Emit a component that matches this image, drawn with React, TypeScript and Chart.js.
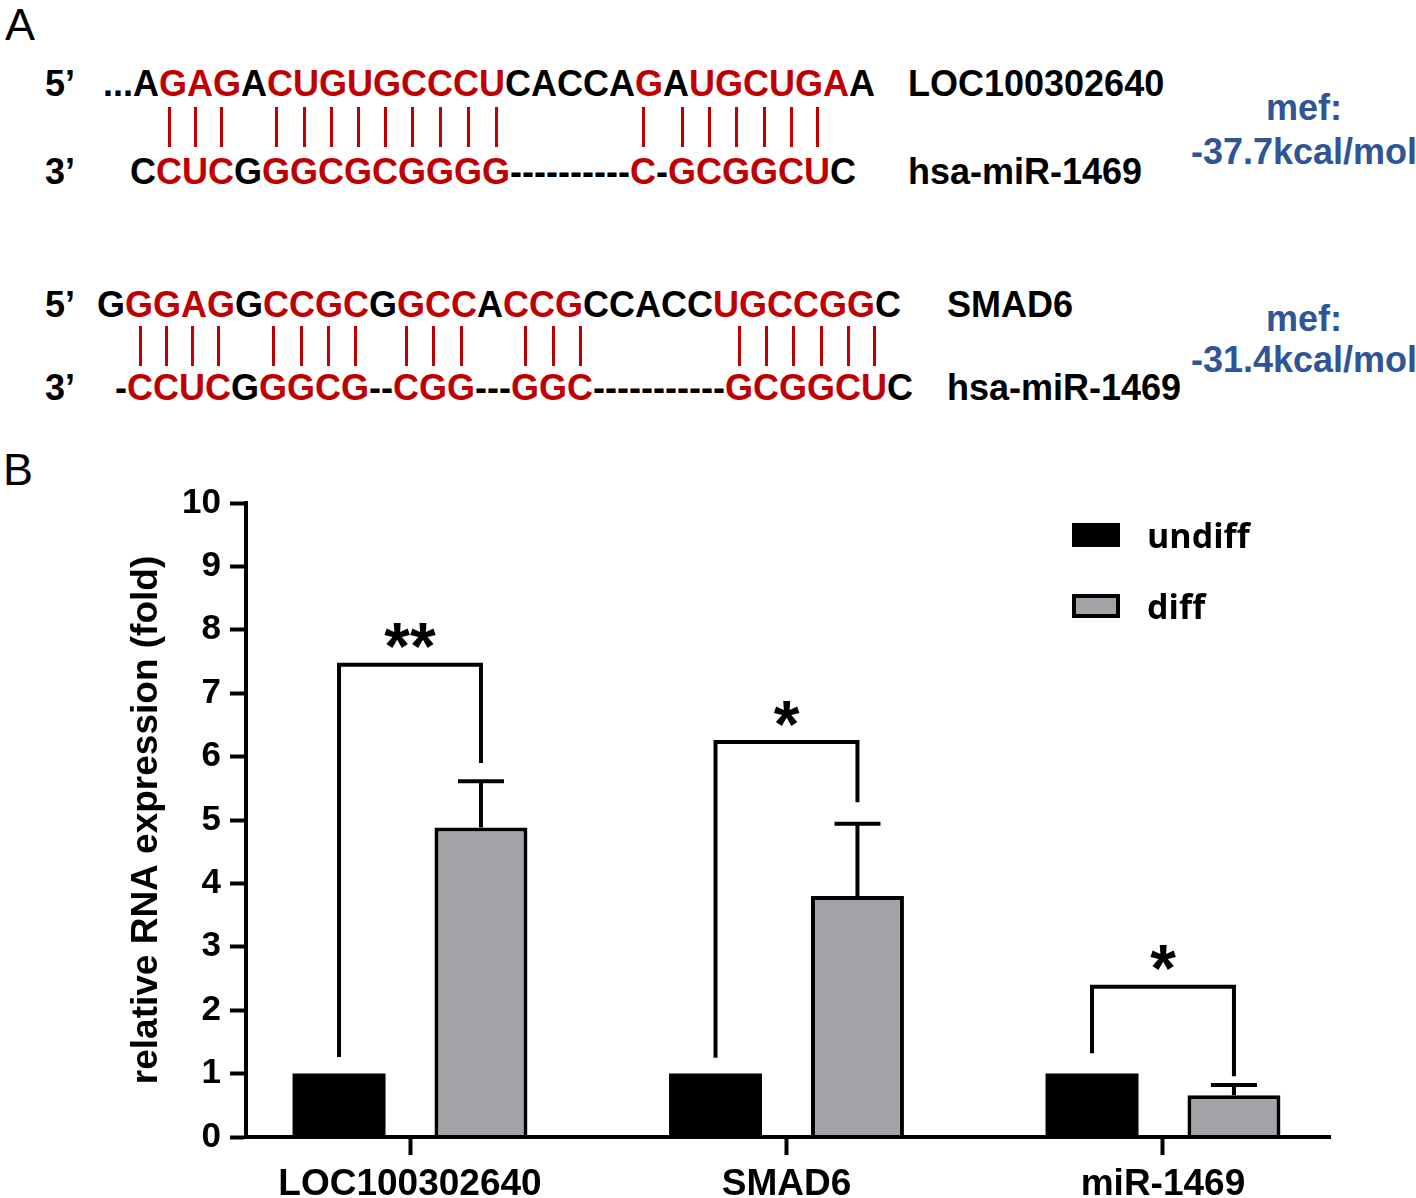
import React, { useEffect, useRef } from 'react';
import { Chart, registerables } from 'chart.js';

Chart.register(...registerables);

// ---------- Panel B data ----------
const categories = ['LOC100302640', 'SMAD6', 'miR-1469'];
const seriesNames = ['undiff', 'diff'];
const undiffValues = [1, 1, 1];
const diffValues = [4.88, 3.8, 0.66];
const diffErrors = [0.73, 1.14, 0.16];
const bracketTops = [7.45, 6.23, 2.37];
const bracketLeftEnds = [1.26, 1.25, 1.32];
const bracketRightEnds = [5.9, 5.28, 0.96];
const significance = ['**', '*', '*'];
const yMin = 0;
const yMax = 10;
const yStep = 1;
const yTitle = 'relative RNA expression (fold)';

// ---------- Panel A data ----------
type Seg = [string, boolean];
const locTarget: Seg[] = [['...A', false], ['GAG', true], ['A', false], ['CUGUGCCCU', true], ['CACCA', false], ['G', true], ['A', false], ['UGCUGA', true], ['A', false]];
const locMiR: Seg[] = [['C', false], ['CUC', true], ['G', false], ['GGCGCGGGG', true], ['----------', false], ['C', true], ['-', false], ['GCGGCU', true], ['C', false]];
const smadTarget: Seg[] = [['G', false], ['GGAG', true], ['G', false], ['CCGC', true], ['G', false], ['GCC', true], ['A', false], ['CCG', true], ['CCACC', false], ['UGCCGG', true], ['C', false]];
const smadMiR: Seg[] = [['-', false], ['CCUC', true], ['G', false], ['GGCG', true], ['--', false], ['CGG', true], ['---', false], ['GGC', true], ['-----------', false], ['GCGGCU', true], ['C', false]];
const targetNames = ['LOC100302640', 'SMAD6'];
const mirName = 'hsa-miR-1469';
const mefValues = ['-37.7kcal/mol', '-31.4kcal/mol'];

// ---------- styles ----------
const FONT = "'Liberation Sans', Arial, Helvetica, sans-serif";
const LEGEND_FONT = "'Open Sans', 'Liberation Sans', Arial, sans-serif";
const RED = '#C00000';
const BLUE = '#2F5597';
const GRAY = '#A3A2A7';
const X_MIN = -0.4356;
const X_MAX = 2.4436;

const annotationPlugin = {
  id: 'annotations',
  afterDatasetsDraw(chart: any) {
    const ctx: CanvasRenderingContext2D = chart.ctx;
    const y = chart.scales.y;
    const m0 = chart.getDatasetMeta(0);
    const m1 = chart.getDatasetMeta(1);
    ctx.save();
    ctx.strokeStyle = '#000';
    ctx.fillStyle = '#000';
    ctx.lineWidth = 4;
    ctx.lineCap = 'butt';
    ctx.lineJoin = 'miter';
    // error bars (upper only)
    m1.data.forEach((bar: any, i: number) => {
      const top = y.getPixelForValue(diffValues[i] + diffErrors[i]);
      const half = 23;
      ctx.beginPath();
      ctx.moveTo(bar.x, bar.y);
      ctx.lineTo(bar.x, top);
      ctx.moveTo(bar.x - half, top);
      ctx.lineTo(bar.x + half, top);
      ctx.stroke();
    });
    // significance brackets
    categories.forEach((_, i) => {
      const x0 = m0.data[i].x;
      const x1 = m1.data[i].x;
      const yt = y.getPixelForValue(bracketTops[i]);
      ctx.beginPath();
      ctx.moveTo(x0, y.getPixelForValue(bracketLeftEnds[i]));
      ctx.lineTo(x0, yt);
      ctx.lineTo(x1, yt);
      ctx.lineTo(x1, y.getPixelForValue(bracketRightEnds[i]));
      ctx.stroke();
      ctx.font = `bold 66px ${FONT}`;
      ctx.textAlign = 'center';
      ctx.textBaseline = 'alphabetic';
      const mt = ctx.measureText(significance[i]);
      const cy = yt - 29;
      const base = cy + (mt.actualBoundingBoxAscent - mt.actualBoundingBoxDescent) / 2;
      ctx.fillText(significance[i], (x0 + x1) / 2, base);
    });
    // legend
    const lx = 1072;
    const boxes = [93, 164];
    chart.data.datasets.forEach((ds: any, i: number) => {
      const by = boxes[i];
      ctx.fillStyle = ds.backgroundColor;
      ctx.fillRect(lx, by, 48, 24);
      if (i > 0) {
        ctx.strokeStyle = '#000';
        ctx.lineWidth = 4;
        ctx.strokeRect(lx + 2, by + 2, 44, 20);
      }
      ctx.fillStyle = '#000';
      ctx.font = `bold 34px ${LEGEND_FONT}`;
      ctx.textAlign = 'left';
      ctx.textBaseline = 'alphabetic';
      ctx.fillText(ds.label, 1147, by + 25);
    });
    ctx.restore();
  },
};

const tickFont = { family: FONT, size: 35, weight: 'bold' as const };

function Txt(props: { x: number; baseline: number; size?: number; weight?: number; color?: string; center?: boolean; children: React.ReactNode }) {
  const size = props.size ?? 36;
  const center = !!props.center;
  const style: React.CSSProperties = {
    position: 'absolute',
    top: props.baseline - 0.8465 * size,
    left: center ? props.x - 250 : props.x,
    width: center ? 500 : undefined,
    textAlign: center ? 'center' : 'left',
    fontSize: size,
    lineHeight: `${size}px`,
    fontWeight: props.weight ?? 700,
    color: props.color ?? '#000',
    whiteSpace: 'pre',
    fontKerning: 'none',
    fontFamily: FONT,
  };
  return <div style={style}>{props.children}</div>;
}

function SeqText({ segs }: { segs: Seg[] }) {
  return (
    <>
      {segs.map(([t, red], i) => (
        <span key={i} style={{ color: red ? RED : '#000' }}>{t}</span>
      ))}
    </>
  );
}

function Pairs({ segs, x, top, height }: { segs: Seg[]; x: number; top: number; height: number }) {
  const chars: Seg[] = [];
  segs.forEach(([t, red]) => t.split('').forEach((c) => chars.push([c, red])));
  return (
    <div style={{ position: 'absolute', left: x, top, height, fontSize: 36, fontWeight: 700, fontFamily: FONT, whiteSpace: 'pre', fontKerning: 'none', color: 'transparent', lineHeight: `${height}px` }}>
      {chars.map(([c, red], i) => (
        <span key={i} style={{ display: 'inline-block', position: 'relative', height, verticalAlign: 'top' }}>
          {c}
          {red && <span style={{ position: 'absolute', left: '50%', top: 0, width: 3, marginLeft: -1.5, height, background: RED }} />}
        </span>
      ))}
    </div>
  );
}

export default function App() {
  const ref = useRef<HTMLCanvasElement>(null);
  useEffect(() => {
    const chart = new Chart(ref.current as HTMLCanvasElement, {
      type: 'bar',
      data: {
        datasets: [
          {
            label: seriesNames[0],
            data: undiffValues.map((v, i) => ({ x: i, y: v })),
            backgroundColor: '#000000',
            borderColor: '#000000',
            borderWidth: 0,
          },
          {
            label: seriesNames[1],
            data: diffValues.map((v, i) => ({ x: i, y: v })),
            backgroundColor: GRAY,
            borderColor: '#000000',
            borderWidth: 4,
          },
        ],
      } as any,
      options: {
        animation: false,
        responsive: true,
        maintainAspectRatio: false,
        devicePixelRatio: 1,
        categoryPercentage: 0.754,
        barPercentage: 0.655,
        layout: { padding: { left: 0, right: 86, top: 73, bottom: 0 } },
        plugins: { legend: { display: false }, tooltip: { enabled: false } },
        scales: {
          x: {
            type: 'linear',
            min: X_MIN,
            max: X_MAX,
            offset: false,
            afterBuildTicks: (axis: any) => {
              axis.ticks = categories.map((_, i) => ({ value: i }));
            },
            afterFit: (axis: any) => {
              axis.height = 61;
            },
            ticks: {
              callback: (v: any) => categories[v] ?? '',
              font: { family: FONT, size: 37, weight: 'bold' },
              color: '#000',
              padding: 8,
              autoSkip: false,
              maxRotation: 0,
              minRotation: 0,
            },
            grid: { display: true, offset: false, drawOnChartArea: false, drawTicks: true, tickLength: 18, tickWidth: 4, tickColor: '#000' },
            border: { display: true, width: 4, color: '#000', z: 1 },
          },
          y: {
            min: yMin,
            max: yMax,
            afterFit: (axis: any) => {
              axis.width = 246;
            },
            ticks: { stepSize: yStep, font: tickFont, color: '#000', padding: 9 },
            grid: { display: true, drawOnChartArea: false, drawTicks: true, tickLength: 16, tickWidth: 4, tickColor: '#000' },
            border: { display: true, width: 4, color: '#000', z: 1 },
            title: {
              display: true,
              text: yTitle,
              color: '#000',
              font: { family: FONT, size: 37, weight: 'bold' },
              padding: { top: 125, bottom: 0 },
            },
          },
        },
      } as any,
      plugins: [annotationPlugin],
    });
    return () => chart.destroy();
  }, []);

  return (
    <div style={{ position: 'absolute', left: 0, top: 0, width: 1416, height: 1198, background: '#fff', overflow: 'hidden', fontFamily: FONT }}>
      <Txt x={5} baseline={40} size={45} weight={400}>A</Txt>
      <Txt x={3} baseline={485} size={45} weight={400}>B</Txt>

      {/* block 1 */}
      <Txt x={45} baseline={96}>5’</Txt>
      <Txt x={103} baseline={96}><SeqText segs={locTarget} /></Txt>
      <Txt x={908} baseline={96}>{targetNames[0]}</Txt>
      <Pairs segs={locMiR} x={130} top={107} height={40} />
      <Txt x={45} baseline={184}>3’</Txt>
      <Txt x={130} baseline={184}><SeqText segs={locMiR} /></Txt>
      <Txt x={908} baseline={184}>{mirName}</Txt>
      <Txt x={1304} baseline={120} color={BLUE} center>mef:</Txt>
      <Txt x={1304} baseline={164} color={BLUE} center>{mefValues[0]}</Txt>

      {/* block 2 */}
      <Txt x={45} baseline={317}>5’</Txt>
      <Txt x={97} baseline={317}><SeqText segs={smadTarget} /></Txt>
      <Txt x={947} baseline={317}>{targetNames[1]}</Txt>
      <Pairs segs={smadMiR} x={115} top={326} height={40} />
      <Txt x={45} baseline={400}>3’</Txt>
      <Txt x={115} baseline={400}><SeqText segs={smadMiR} /></Txt>
      <Txt x={947} baseline={400}>{mirName}</Txt>
      <Txt x={1304} baseline={331} color={BLUE} center>mef:</Txt>
      <Txt x={1304} baseline={372} color={BLUE} center>{mefValues[1]}</Txt>

      <div style={{ position: 'absolute', left: 0, top: 430, width: 1416, height: 768 }}>
        <canvas ref={ref} />
      </div>
    </div>
  );
}
